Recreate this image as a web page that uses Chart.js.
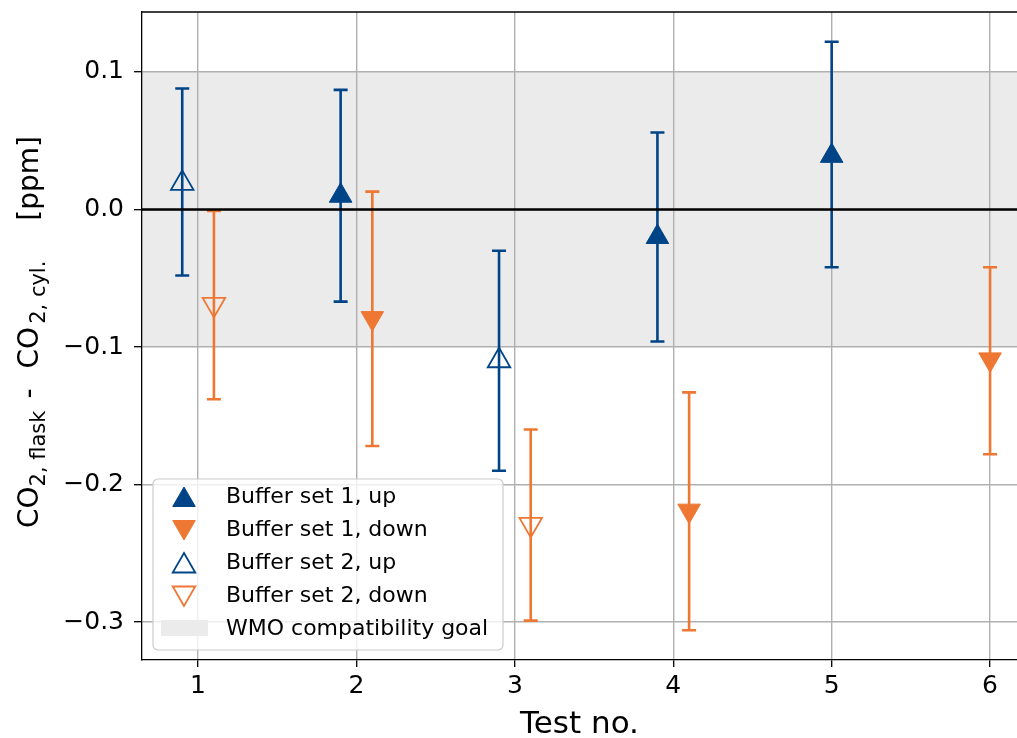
<!DOCTYPE html>
<html>
<head>
<meta charset="utf-8">
<script src="https://cdn.jsdelivr.net/npm/chart.js@4.4.1/dist/chart.umd.min.js"></script>
<style>
  body { margin: 0; background: #fff; }
  #myChart { display: block; }
</style>
</head>
<body>
<canvas id="myChart" width="1017" height="738"></canvas>
<script>
// tick labels
const xTicks = [1, 2, 3, 4, 5, 6]
const yTicks = [-0.3, -0.2, -0.1, 0.0, 0.1]

// series (x = test no. with offset, y = difference in ppm)
const set1UpX    = [1.9, 3.9, 5.0]
const set1UpY    = [0.010, -0.020, 0.039]
const set1UpLow  = [-0.067, -0.096, -0.042]
const set1UpHigh = [0.087, 0.056, 0.122]

const set1DownX    = [2.1, 4.1, 6.0]
const set1DownY    = [-0.079, -0.219, -0.109]
const set1DownLow  = [-0.172, -0.306, -0.178]
const set1DownHigh = [0.013, -0.133, -0.042]

const set2UpX    = [0.9, 2.9]
const set2UpY    = [0.019, -0.110]
const set2UpLow  = [-0.048, -0.190]
const set2UpHigh = [0.088, -0.030]

const set2DownX    = [1.1, 3.1]
const set2DownY    = [-0.069, -0.229]
const set2DownLow  = [-0.138, -0.299]
const set2DownHigh = [-0.001, -0.160]

const wmoGoal = [-0.1, 0.1]
const seriesNames = ['Buffer set 1, up', 'Buffer set 1, down', 'Buffer set 2, up', 'Buffer set 2, down']
const bandName = 'WMO compatibility goal'

const blue = '#004488'
const orange = '#EE7733'
const font = "'DejaVu Sans', 'Liberation Sans', sans-serif"

function points(xs, ys, lo, hi) {
    let arr = Array()
    xs.forEach((x, i) => {
        arr.push({ x: x, y: ys[i], yMin: lo[i], yMax: hi[i] })
    })
    return arr
}

function makeSet(label, data, color, filled, rot) {
    return {
        label: label,
        data: data,
        pointStyle: 'triangle',
        pointRotation: rot,
        pointRadius: 13,
        pointHoverRadius: 13,
        pointBackgroundColor: filled ? color : 'rgba(0,0,0,0)',
        pointBorderColor: color,
        pointBorderWidth: filled ? 1 : 1.8,
        showLine: false,
        errColor: color
    }
}

const datasets = [
    makeSet(seriesNames[0], points(set1UpX, set1UpY, set1UpLow, set1UpHigh), blue, true, 0),
    makeSet(seriesNames[1], points(set1DownX, set1DownY, set1DownLow, set1DownHigh), orange, true, 180),
    makeSet(seriesNames[2], points(set2UpX, set2UpY, set2UpLow, set2UpHigh), blue, false, 0),
    makeSet(seriesNames[3], points(set2DownX, set2DownY, set2DownLow, set2DownHigh), orange, false, 180)
]

// background band, error bars, zero line, legend and y title
const decor = {
    id: 'decor',
    beforeDraw(chart) {
        const ctx = chart.ctx
        const a = chart.chartArea
        const y = chart.scales.y
        ctx.save()
        ctx.fillStyle = '#fff'
        ctx.fillRect(0, 0, chart.width, chart.height)
        const top = y.getPixelForValue(wmoGoal[1])
        const bot = y.getPixelForValue(wmoGoal[0])
        ctx.fillStyle = '#ebebeb'
        ctx.fillRect(a.left, top, a.right - a.left, bot - top)
        ctx.restore()
    },
    beforeDatasetsDraw(chart) {
        const ctx = chart.ctx
        const a = chart.chartArea
        const xs = chart.scales.x
        const ys = chart.scales.y
        ctx.save()
        ctx.lineWidth = 2.6
        chart.data.datasets.forEach(ds => {
            ctx.strokeStyle = ds.errColor
            ds.data.forEach(p => {
                const px = xs.getPixelForValue(p.x)
                const y1 = ys.getPixelForValue(p.yMax)
                const y2 = ys.getPixelForValue(p.yMin)
                ctx.beginPath()
                ctx.moveTo(px, y1); ctx.lineTo(px, y2)
                ctx.moveTo(px - 7, y1); ctx.lineTo(px + 7, y1)
                ctx.moveTo(px - 7, y2); ctx.lineTo(px + 7, y2)
                ctx.stroke()
            })
        })
        const z = ys.getPixelForValue(0)
        ctx.strokeStyle = '#000'
        ctx.lineWidth = 2.6
        ctx.beginPath()
        ctx.moveTo(a.left, z); ctx.lineTo(a.right, z)
        ctx.stroke()
        ctx.restore()
    },
    afterDraw(chart) {
        const ctx = chart.ctx
        const a = chart.chartArea
        ctx.save()
        // top spine
        ctx.strokeStyle = '#000'
        ctx.lineWidth = 1.3
        ctx.beginPath()
        ctx.moveTo(a.left, a.top); ctx.lineTo(a.right, a.top)
        ctx.stroke()

        // legend
        const bx = 153, by = 479, bw = 350, bh = 171
        ctx.beginPath()
        ctx.roundRect(bx, by, bw, bh, 5)
        ctx.fillStyle = 'rgba(255,255,255,0.8)'
        ctx.fill()
        ctx.strokeStyle = '#cccccc'
        ctx.lineWidth = 1.2
        ctx.stroke()
        ctx.font = '22px ' + font
        ctx.textBaseline = 'middle'
        ctx.textAlign = 'left'
        chart.data.datasets.forEach((ds, i) => {
            const ry = 497 + i * 33
            ctx.fillStyle = ds.pointBackgroundColor
            ctx.strokeStyle = ds.pointBorderColor
            ctx.lineWidth = ds.pointBorderWidth
            Chart.helpers.drawPoint(ctx, {
                pointStyle: 'triangle', rotation: ds.pointRotation,
                radius: 13, borderWidth: ds.pointBorderWidth
            }, 184, ry + (ds.pointRotation ? -3 : 3))
            ctx.fillStyle = '#000'
            ctx.fillText(ds.label, 226, ry)
        })
        ctx.fillStyle = '#ebebeb'
        ctx.fillRect(161, 620, 47, 16)
        ctx.fillStyle = '#000'
        ctx.fillText(bandName, 226, 629)

        // y title with subscripts
        const parts = [
            { t: 'CO', size: 28, gap: 0 },
            { t: '2, flask', size: 21, sub: true, gap: 12 },
            { t: '-', size: 28, gap: 20 },
            { t: 'CO', size: 28, gap: 3 },
            { t: '2, cyl.', size: 21, sub: true, gap: 40 },
            { t: '[ppm]', size: 28, gap: 0 }
        ]
        let total = 0
        parts.forEach(p => {
            ctx.font = p.size + 'px ' + font
            total += ctx.measureText(p.t).width + p.gap
        })
        const cy = (a.top + a.bottom) / 2 - 4
        ctx.translate(38, cy + total / 2)
        ctx.rotate(-Math.PI / 2)
        ctx.textBaseline = 'alphabetic'
        let pos = 0
        parts.forEach(p => {
            ctx.font = p.size + 'px ' + font
            ctx.fillText(p.t, pos, p.sub ? 7 : 0)
            pos += ctx.measureText(p.t).width + p.gap
        })
        ctx.restore()
    }
}

function fmtY(v) {
    let s = Math.abs(v) < 1e-9 ? '0.0' : v.toFixed(1)
    return s.replace('-', '\u2212')
}

const config = {
    type: 'scatter',
    data: { datasets: datasets },
    options: {
        responsive: false,
        animation: false,
        events: [],
        layout: { autoPadding: false, padding: { top: 12, right: 0, left: 0, bottom: 0 } },
        plugins: {
            legend: { display: false },
            tooltip: { enabled: false }
        },
        scales: {
            x: {
                type: 'linear',
                min: 0.646,
                max: 6.17,
                afterBuildTicks: s => { s.ticks = xTicks.map(v => ({ value: v })) },
                afterFit: s => { s.height = 78; s.paddingLeft = 0; s.paddingRight = 0 },
                ticks: {
                    color: '#000',
                    font: { family: font, size: 25 },
                    padding: 4,
                    maxRotation: 0,
                    callback: v => String(v)
                },
                grid: { color: '#b0b0b0', lineWidth: 1.4, tickColor: '#000', tickLength: 7, tickWidth: 1.3 },
                border: { color: '#000', width: 1.3 },
                title: {
                    display: true,
                    text: 'Test no.',
                    color: '#000',
                    font: { family: font, size: 31 },
                    padding: { top: 0, bottom: -6 }
                }
            },
            y: {
                min: -0.3276,
                max: 0.1436,
                afterBuildTicks: s => { s.ticks = yTicks.map(v => ({ value: v })) },
                afterFit: s => { s.width = 142; s.paddingTop = 0; s.paddingBottom = 0 },
                ticks: {
                    color: '#000',
                    font: { family: font, size: 25 },
                    padding: 10,
                    callback: v => fmtY(v)
                },
                grid: { color: '#b0b0b0', lineWidth: 1.4, tickColor: '#000', tickLength: 8, tickWidth: 1.3 },
                border: { color: '#000', width: 1.3 }
            }
        }
    },
    plugins: [decor]
}

const myChart = document.getElementById('myChart')
new Chart(myChart, config)
</script>
</body>
</html>
